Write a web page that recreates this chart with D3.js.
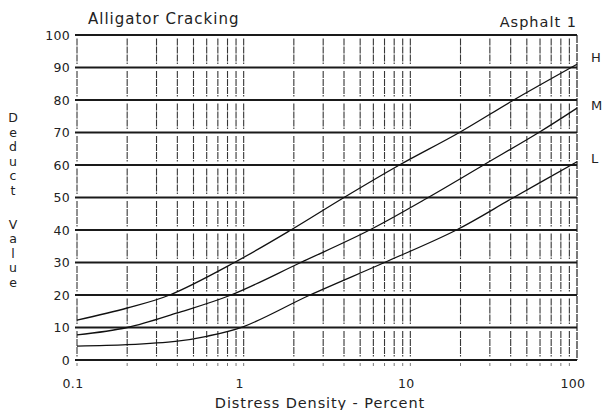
<!DOCTYPE html>
<html>
<head>
<meta charset="utf-8">
<script src="https://cdn.jsdelivr.net/npm/d3@7"></script>
<style>
  html, body { margin: 0; padding: 0; background: #fff; }
  svg { display: block; }
  text { font-family: "DejaVu Sans", "Liberation Sans", sans-serif; fill: #222; }
</style>
</head>
<body>
<svg id="chart" width="603" height="410"></svg>
<script>
// ---- data ----
const seriesNames = ["H", "M", "L"];
const densityH = [0.1, 0.2, 0.36, 0.88, 1.92, 4, 8.6, 19.7, 41.7, 100];
const deductH  = [12.3, 16, 20, 30, 40, 50, 60, 70, 80, 91];
const densityM = [0.1, 0.2, 0.4, 0.84, 2.2, 5.7, 12.8, 27.5, 59, 100];
const deductM  = [7.7, 10, 14.5, 20, 30, 40, 50, 60, 70, 77.5];
const densityL = [0.1, 0.2, 0.4, 0.6, 1, 2.5, 7, 18.9, 41.7, 100];
const deductL  = [4.3, 4.7, 5.8, 7.3, 10.3, 20, 30, 40, 50, 61];
const xTickValues = [0.1, 1, 10, 100];
const xTickLabels = ["0.1", "1", "10", "100"];
const yTickValues = [0, 10, 20, 30, 40, 50, 60, 70, 80, 90, 100];
const titleText = "Alligator Cracking";
const subtitleText = "Asphalt 1";
const xTitle = "Distress Density - Percent";
const yTitleWords = ["Deduct", "Value"];

// ---- layout ----
const svg = d3.select("#chart");
const x = d3.scaleLog().domain([0.1, 100]).range([77, 577]);
const y = d3.scaleLinear().domain([0, 100]).range([360, 35]);

const grid = svg.append("g");

// vertical log grid lines, broken into segments between horizontal lines
const xGrid = x.ticks();
const bands = d3.range(0, 100, 10);
xGrid.forEach(v => {
  if (v === 100) return;
  bands.forEach(b => {
    grid.append("line")
      .attr("x1", x(v)).attr("x2", x(v))
      .attr("y1", y(b + 10) + 3.5).attr("y2", y(b) - 3.5)
      .attr("stroke", "#222").attr("stroke-width", 1.1)
      .attr("stroke-dasharray", "7,1").attr("opacity", 0.9);
  });
  // small tick under the zero line
  grid.append("line")
    .attr("x1", x(v)).attr("x2", x(v))
    .attr("y1", y(0) + 3).attr("y2", y(0) + 6)
    .attr("stroke", "#444").attr("stroke-width", 1).attr("opacity", 0.7);
});
// right frame edge
grid.append("line")
  .attr("x1", x(100)).attr("x2", x(100))
  .attr("y1", y(100)).attr("y2", y(0))
  .attr("stroke", "#333").attr("stroke-width", 1.3)
  .attr("stroke-dasharray", "8,1");

// horizontal grid lines
yTickValues.forEach(v => {
  grid.append("line")
    .attr("x1", x(0.1) - 2).attr("x2", x(100))
    .attr("y1", y(v)).attr("y2", y(v))
    .attr("stroke", "#1a1a1a").attr("stroke-width", 1.8);
});

// y tick labels
svg.append("g").selectAll("text").data(yTickValues).join("text")
  .attr("x", 70).attr("y", d => y(d))
  .attr("dy", "0.36em").attr("text-anchor", "end")
  .attr("font-size", 12.5).attr("letter-spacing", 0.3)
  .text(d => d);

// x tick labels
svg.append("g").selectAll("text").data(xTickValues).join("text")
  .attr("x", d => x(d) - 4).attr("y", 388)
  .attr("text-anchor", "middle")
  .attr("font-size", 12.5).attr("letter-spacing", 0.3)
  .text((d, i) => xTickLabels[i]);

// curves
const line = d3.line()
  .x(d => x(d[0])).y(d => y(d[1]))
  .curve(d3.curveCatmullRom.alpha(0.5));
const seriesData = [
  d3.zip(densityH, deductH),
  d3.zip(densityM, deductM),
  d3.zip(densityL, deductL)
];
svg.append("g").selectAll("path").data(seriesData).join("path")
  .attr("d", line)
  .attr("fill", "none").attr("stroke", "#111").attr("stroke-width", 1.3);

// series labels at right end
svg.append("g").selectAll("text").data(seriesData).join("text")
  .attr("x", 591)
  .attr("y", (d, i) => [62, 110, 163][i])
  .attr("font-size", 13)
  .text((d, i) => seriesNames[i]);

// titles
svg.append("text").attr("x", 88).attr("y", 24)
  .attr("font-size", 15).attr("letter-spacing", 1)
  .text(titleText);
svg.append("text").attr("x", 577).attr("y", 27)
  .attr("text-anchor", "end")
  .attr("font-size", 14.5).attr("letter-spacing", 1)
  .text(subtitleText);
svg.append("text").attr("x", 320).attr("y", 408)
  .attr("text-anchor", "middle")
  .attr("font-size", 14.5).attr("letter-spacing", 0.9)
  .text(xTitle);

// vertical stacked y title
const yt = svg.append("g");
let yy = 122;
yTitleWords.forEach((w, wi) => {
  w.split("").forEach(ch => {
    yt.append("text").attr("x", 13).attr("y", yy)
      .attr("text-anchor", "middle").attr("font-size", 12.5)
      .text(ch);
    yy += 14.6;
  });
  yy += 19;
});
</script>
</body>
</html>
